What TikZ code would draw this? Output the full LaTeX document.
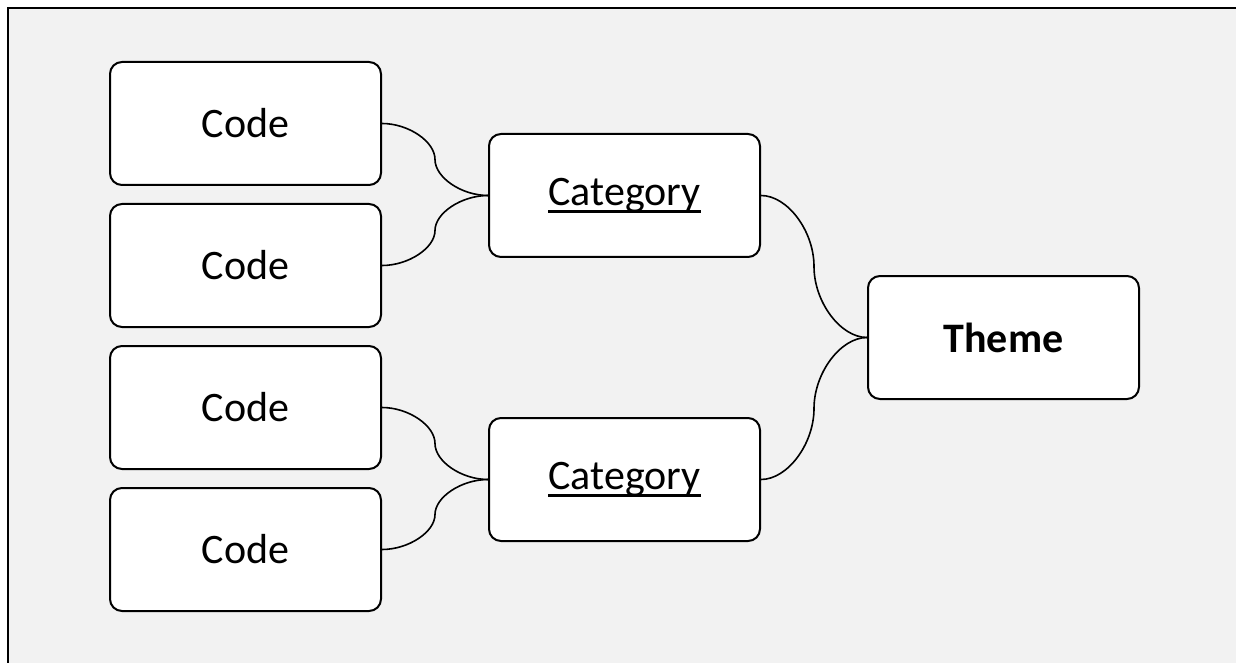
\documentclass[tikz,border=0pt]{standalone}
\usepackage{fontspec}
\setmainfont{Carlito}
\usetikzlibrary{calc}
\newcommand\thickul[1]{\setbox0\hbox{#1}\rlap{\rule[-3.6pt]{\wd0}{1.4pt}}\box0}
\tikzset{
  box/.style={draw=black, line width=1pt, fill=white, rounded corners=6pt,
    minimum width=135.5pt, minimum height=61.5pt, inner sep=0pt,
    font=\fontsize{21}{25}\selectfont},
  link/.style={draw=black, line width=0.8pt}
}
\newcommand\curvelink[2]{%
  \draw[link] let \p1=(#1), \p2=(#2) in
    (\p1) .. controls ({(3*\x1+\x2)/4},\y1) and ({(\x1+\x2)/2},{(3*\y1+\y2)/4}) ..
    ({(\x1+\x2)/2},{(\y1+\y2)/2}) .. controls ({(\x1+\x2)/2},{(\y1+3*\y2)/4}) and ({(\x1+3*\x2)/4},\y2) .. (\p2);}
\begin{document}
\begin{tikzpicture}[x=0.5pt,y=-0.5pt]
\useasboundingbox (0,0) rectangle (1236,663);
\fill[white] (0,0) rectangle (1236,663);
\fill[fill={rgb,255:red,242;green,242;blue,242}] (8,8) rectangle (1236,663);
\draw[black, line width=1.2pt] (8,663) -- (8,8) -- (1236,8);
\node[box] (c1) at (245.5,123.5) {Code};
\node[box] (c2) at (245.5,265.5) {Code};
\node[box] (c3) at (245.5,407.5) {Code};
\node[box] (c4) at (245.5,549.5) {Code};
\node[box] (k1) at (624.5,195.5) {\thickul{Category}};
\node[box] (k2) at (624.5,479.5) {\thickul{Category}};
\node[box] (t) at (1003.5,337.5) {\textbf{Theme}};
\curvelink{c1.east}{k1.west}
\curvelink{c2.east}{k1.west}
\curvelink{c3.east}{k2.west}
\curvelink{c4.east}{k2.west}
\curvelink{k1.east}{t.west}
\curvelink{k2.east}{t.west}
\end{tikzpicture}
\end{document}
